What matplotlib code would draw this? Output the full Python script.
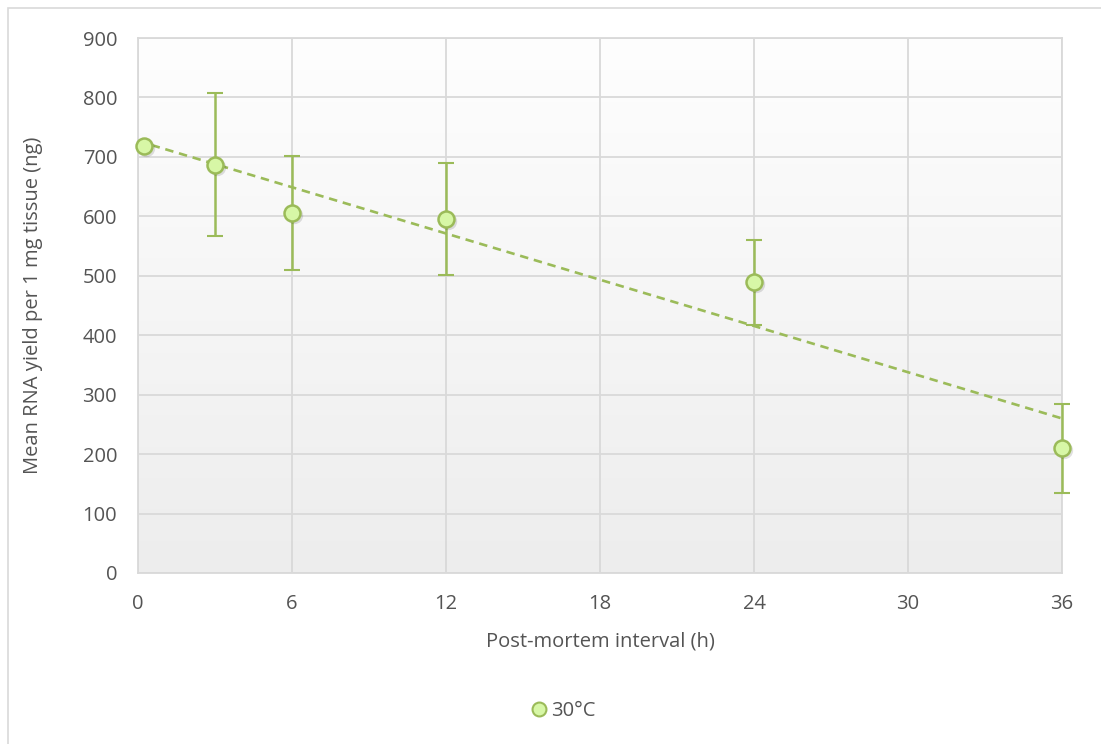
import numpy as np
import matplotlib
matplotlib.use("Agg")
import matplotlib.pyplot as plt
from matplotlib.lines import Line2D
from matplotlib.patches import Rectangle

# Mean RNA yield at 30°C by post-mortem interval
pmi_hours = [0.25, 3, 6, 12, 24, 36]
rna_yield = [719, 687, 606, 596, 489, 210]
yield_err = [0, 120, 96, 94, 72, 75]
x_ticks = [0, 6, 12, 18, 24, 30, 36]
y_ticks = [0, 100, 200, 300, 400, 500, 600, 700, 800, 900]
series_label = "30°C"

GREEN = "#9bbb59"
FACE = "#d7f7a6"
TEXT = "#545454"
GRID = "#d9d9d9"
FS = 14.5

plt.rcParams["font.family"] = ["Open Sans", "DejaVu Sans"]

fig = plt.figure(figsize=(11.01, 7.44), dpi=100)
fig.patch.set_facecolor("white")

# chart-area frame (runs off the right and bottom edges)
fig.add_artist(Rectangle((8 / 1101, -0.05), 1.2, 1 - 8 / 744 + 0.05,
                         transform=fig.transFigure, fill=False,
                         edgecolor="#d9d9d9", linewidth=1.2))

ax = fig.add_axes([138 / 1101, 1 - 573 / 744, (1062 - 138) / 1101, (573 - 38) / 744])
ax.set_xlim(0, 36)
ax.set_ylim(0, 900)

# vertical gradient fill for the plot area
grad = np.linspace(0, 1, 256).reshape(-1, 1)
ax.imshow(grad, extent=[0, 36, 0, 900], aspect="auto", origin="upper",
          cmap=matplotlib.colors.LinearSegmentedColormap.from_list(
              "bg", ["#fefefe", "#ededed"]), zorder=0)

ax.set_xticks(x_ticks)
ax.set_yticks(y_ticks)
ax.grid(True, color=GRID, linewidth=1.3, zorder=1)
for s in ax.spines.values():
    s.set_color(GRID)
    s.set_linewidth(1.3)
ax.tick_params(length=0, labelsize=FS, labelcolor=TEXT)
ax.tick_params(axis="y", pad=15)
ax.tick_params(axis="x", pad=15)

# linear trendline
coef = np.polyfit(pmi_hours, rna_yield, 1)
xt = np.array([0, 36])
ax.plot(xt, np.polyval(coef, xt), linestyle=(0, (3.2, 2.2)), color=GREEN,
        linewidth=1.9, zorder=3, clip_on=False)

# error bars
ax.errorbar(pmi_hours, rna_yield, yerr=yield_err, fmt="none", ecolor=GREEN,
            elinewidth=1.8, capsize=6, capthick=1.5, zorder=4, clip_on=False)

# marker shadows
ax.plot(pmi_hours, rna_yield, "o", markersize=12.5, color="#000000", alpha=0.12,
        markeredgewidth=0, zorder=4.5, clip_on=False,
        transform=ax.transData + matplotlib.transforms.ScaledTranslation(
            1.5 / 100, -2 / 100, fig.dpi_scale_trans))
ax.plot(pmi_hours, rna_yield, "o", markersize=11.5, markerfacecolor=FACE,
        markeredgecolor=GREEN, markeredgewidth=1.8, linestyle="none",
        zorder=5, clip_on=False)

ax.set_xlabel("Post-mortem interval (h)", fontsize=FS, color=TEXT)
ax.set_ylabel("Mean RNA yield per 1 mg tissue (ng)", fontsize=FS, color=TEXT)
ax.xaxis.set_label_coords(0.5, (573 - 641) / 535, transform=ax.transAxes)
ax.yaxis.set_label_coords((33 - 138) / 924, 0.5, transform=ax.transAxes)
ax.xaxis.label.set_va("center")
ax.yaxis.label.set_va("center")

handle = Line2D([], [], marker="o", linestyle="none", markersize=10,
                markerfacecolor=FACE, markeredgecolor=GREEN, markeredgewidth=1.5)
fig.legend([handle], [series_label], loc="center", bbox_to_anchor=(562 / 1101, 1 - 711 / 744),
           frameon=False, fontsize=FS, labelcolor=TEXT, handletextpad=0.1,
           handlelength=1.0)

fig.savefig("out.png", dpi=100, facecolor="white")
